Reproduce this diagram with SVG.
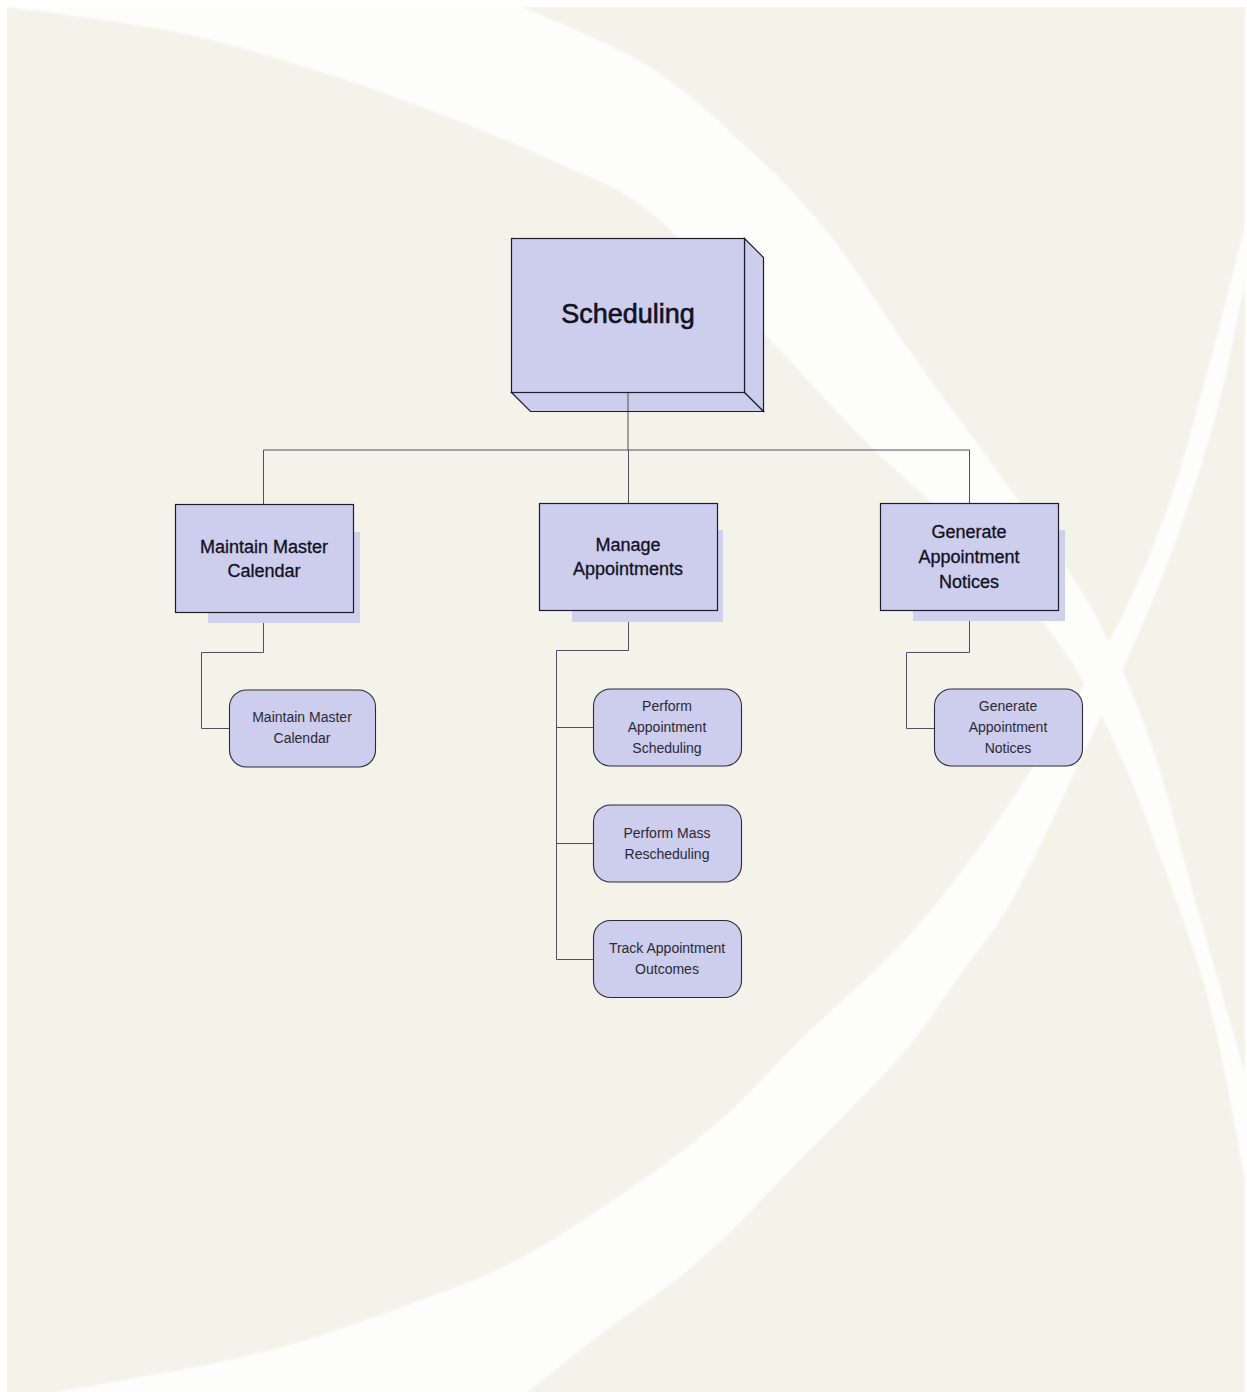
<svg xmlns="http://www.w3.org/2000/svg" width="1247" height="1392" viewBox="0 0 1247 1392">
<style>
.l2 { fill:#cdcdee; stroke:#1c1c2c; stroke-width:1.2; }
.sh { fill:#d0d0ec; stroke:none; }
.l3 { fill:#cdcdee; stroke:#2a2a3a; stroke-width:1.1; }
.t1 { font-family:"Liberation Sans", Arial, sans-serif; font-size:27px; fill:#111122; stroke:#111122; stroke-width:0.6; text-anchor:middle; }
.t2 { font-family:"Liberation Sans", Arial, sans-serif; font-size:18px; fill:#111122; stroke:#111122; stroke-width:0.3; text-anchor:middle; }
.t3 { font-family:"Liberation Sans", Arial, sans-serif; font-size:14px; fill:#2a2a35; text-anchor:middle; }
.cn { fill:none; stroke:#505060; stroke-width:1; }
.band { fill:#fdfdfc; }
</style>
<defs>
<clipPath id="bg"><rect x="7" y="7" width="1238" height="1385"/></clipPath>
<filter id="soft" x="-5%" y="-5%" width="110%" height="110%"><feGaussianBlur stdDeviation="1.2"/></filter>
</defs>
<rect width="1247" height="1392" fill="#fefefe"/>
<rect x="7" y="7" width="1238" height="1385" fill="#f3f3ea"/>
<g clip-path="url(#bg)">
<g filter="url(#soft)">
<path class="band" d="M 7,7 L 7,0 L 523,0 L 523,7 C 544,17 612,43 650,67 C 688,91 720,122 750,150 C 780,178 803.5,201.7 830,235 C 856.5,268.3 880.7,310 909,350 C 937.3,390 970.3,433.3 1000,475 C 1029.7,516.7 1062,555.8 1087,600 C 1112,644.2 1132,690 1150,740 C 1168,790 1178.8,843.3 1195,900 C 1211.2,956.7 1238.3,1050 1247,1080 L 1252,1080 L 1252,1190 L 1247,1190 C 1240.8,1159.3 1223.7,1059.3 1210,1006 C 1196.3,952.7 1180,911.8 1165,870 C 1150,828.2 1137.5,792.5 1120,755 C 1102.5,717.5 1086.7,682.5 1060,645 C 1033.3,607.5 992.2,563.7 960,530 C 927.8,496.3 899.7,475.8 867,443 C 834.3,410.2 800.2,371.5 764,333 C 727.8,294.5 685.7,240.8 650,212 C 614.3,183.2 583.3,175.7 550,160 C 516.7,144.3 486.7,132.2 450,118 C 413.3,103.8 375,89.2 330,75 C 285,60.8 233.8,44.3 180,33 C 126.2,21.7 35.8,11.3 7,7 Z"/>
<path class="band" d="M 1250,205 C 1243.8,229.2 1226.3,300.8 1213,350 C 1199.7,399.2 1185.5,455 1170,500 C 1154.5,545 1140,580 1120,620 C 1100,660 1073.8,701.7 1050,740 C 1026.2,778.3 1002,815.8 977,850 C 952,884.2 929.5,913.3 900,945 C 870.5,976.7 833.3,1008 800,1040 C 766.7,1072 744.2,1102 700,1137 C 655.8,1172 584.7,1221.7 535,1250 C 485.3,1278.3 449.5,1289.5 402,1307 C 354.5,1324.5 310.3,1340.3 250,1355 C 189.7,1369.7 75,1388.3 40,1395 L 40,1400 L 520,1400 L 520,1398 C 533.3,1387.5 570,1358 600,1335 C 630,1312 666.7,1289.2 700,1260 C 733.3,1230.8 766.7,1193.8 800,1160 C 833.3,1126.2 873.3,1087.8 900,1057 C 926.7,1026.2 941,1001.7 960,975 C 979,948.3 992.3,936.2 1014,897 C 1035.7,857.8 1066.8,789.5 1090,740 C 1113.2,690.5 1136.3,640 1153,600 C 1169.7,560 1178.8,533.3 1190,500 C 1201.2,466.7 1212.5,428.3 1220,400 C 1227.5,371.7 1229.7,355 1235,330 C 1240.3,305 1249.2,263.3 1252,250 Z"/>
</g>
</g>

<g id="connectors">
<path class="cn" d="M 628,393 V 450 M 263.5,450 H 969.5 M 263.5,450 V 504 M 628.5,450 V 503 M 969.5,450 V 503"/>
<path class="cn" d="M 263.5,612 V 652.5 H 201.5 V 728.5 H 229"/>
<path class="cn" d="M 628.5,611 V 650.5 H 556.5 V 959.5 H 593 M 556.5,727.5 H 593 M 556.5,843.5 H 593"/>
<path class="cn" d="M 969.5,611 V 652.5 H 906.5 V 728.5 H 934"/>
</g>

<g id="scheduling">
<polygon class="l2" points="744.5,238.5 763.5,257.5 763.5,411.5 744.5,392.5"/>
<polygon class="l2" points="511.5,392.5 744.5,392.5 763.5,411.5 530.5,411.5"/>
<rect class="l2" x="511.5" y="238.5" width="233" height="154"/>
<line class="cn" x1="628" y1="393" x2="628" y2="411.5"/>
<text class="t1" x="628" y="323">Scheduling</text>
</g>

<g id="maintain-master-calendar">
<rect class="sh" x="208" y="532" width="152" height="91"/>
<rect class="l2" x="175.5" y="504.5" width="178" height="108"/>
<text class="t2" x="264" y="553">Maintain Master</text>
<text class="t2" x="264" y="577">Calendar</text>
</g>

<g id="manage-appointments">
<rect class="sh" x="572" y="530" width="151" height="92"/>
<rect class="l2" x="539.5" y="503.5" width="178" height="107"/>
<text class="t2" x="628" y="551">Manage</text>
<text class="t2" x="628" y="575">Appointments</text>
</g>

<g id="generate-appointment-notices">
<rect class="sh" x="913" y="530" width="152" height="91"/>
<rect class="l2" x="880.5" y="503.5" width="178" height="107"/>
<text class="t2" x="969" y="538">Generate</text>
<text class="t2" x="969" y="563">Appointment</text>
<text class="t2" x="969" y="588">Notices</text>
</g>

<g id="maintain-master-calendar-sub">
<rect class="l3" x="229.5" y="690" width="146" height="77" rx="17"/>
<text class="t3" x="302" y="722">Maintain Master</text>
<text class="t3" x="302" y="743">Calendar</text>
</g>

<g id="perform-appointment-scheduling">
<rect class="l3" x="593.5" y="689" width="148" height="77" rx="17"/>
<text class="t3" x="667" y="711">Perform</text>
<text class="t3" x="667" y="732">Appointment</text>
<text class="t3" x="667" y="753">Scheduling</text>
</g>

<g id="perform-mass-rescheduling">
<rect class="l3" x="593.5" y="805" width="148" height="77" rx="17"/>
<text class="t3" x="667" y="838">Perform Mass</text>
<text class="t3" x="667" y="859">Rescheduling</text>
</g>

<g id="track-appointment-outcomes">
<rect class="l3" x="593.5" y="920.5" width="148" height="77" rx="17"/>
<text class="t3" x="667" y="953">Track Appointment</text>
<text class="t3" x="667" y="974">Outcomes</text>
</g>

<g id="generate-appointment-notices-sub">
<rect class="l3" x="934.5" y="689" width="148" height="77" rx="17"/>
<text class="t3" x="1008" y="711">Generate</text>
<text class="t3" x="1008" y="732">Appointment</text>
<text class="t3" x="1008" y="753">Notices</text>
</g>
</svg>
